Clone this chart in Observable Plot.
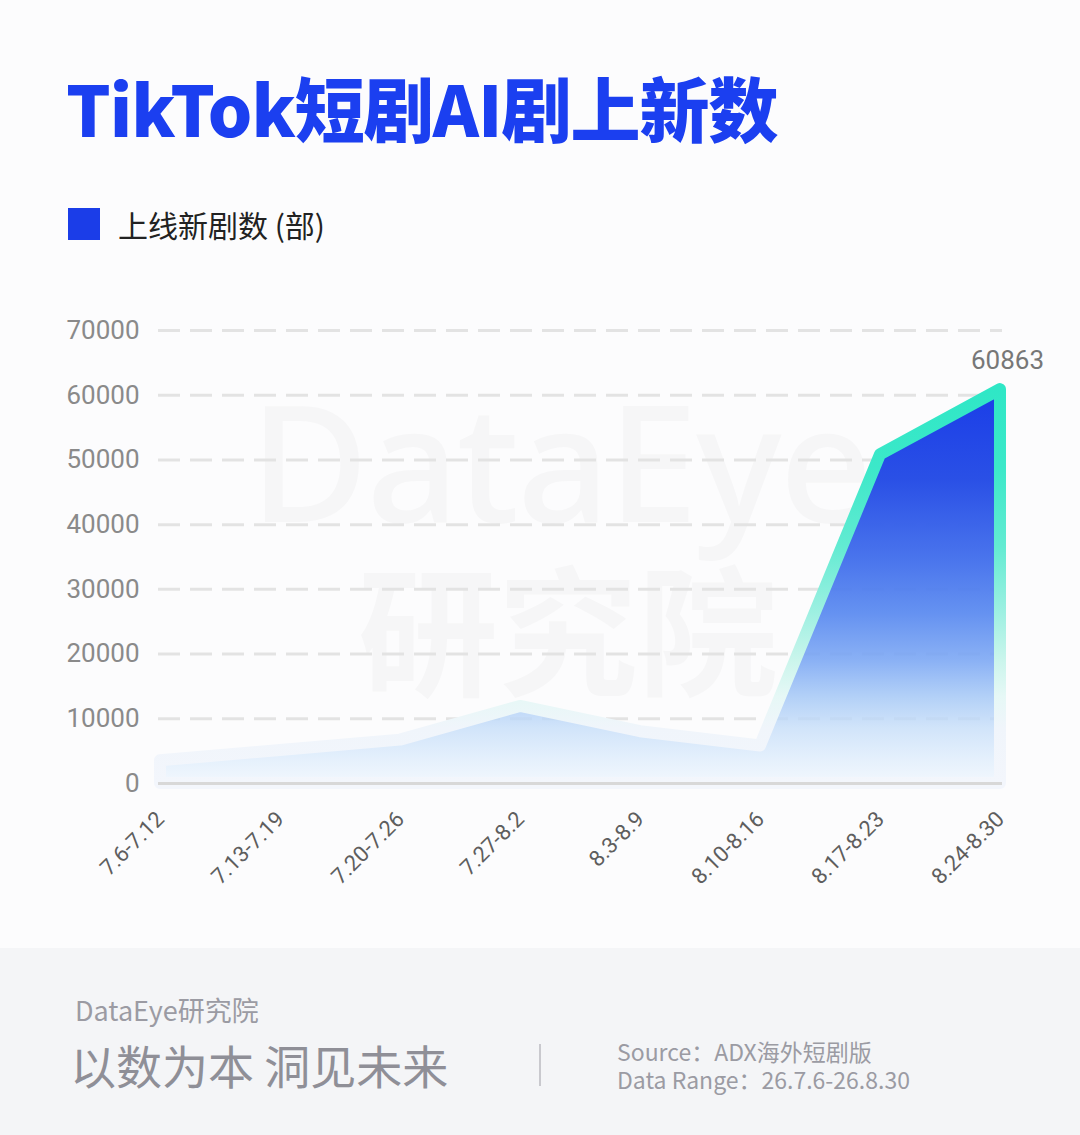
<!DOCTYPE html>
<html>
<head>
<meta charset="utf-8">
<script src="https://cdn.jsdelivr.net/npm/d3@7"></script>
<script src="https://cdn.jsdelivr.net/npm/@observablehq/plot@0.6"></script>
<style>
  html, body { margin: 0; padding: 0; }
  body { width: 1080px; height: 1135px; position: relative; overflow: hidden; background: #fcfcfd; font-family: "Noto Sans CJK SC", "Noto Sans", sans-serif; }
  #title { position: absolute; left: 66px; top: 72px; font-size: 70px; line-height: 1; font-weight: 900; color: #1b3ff0; letter-spacing: -1px; white-space: nowrap; }
  #legend { position: absolute; left: 68px; top: 208px; display: flex; align-items: center; }
  #legend .sw { width: 32px; height: 32px; background: #1b3de8; }
  #legend .lb { margin-left: 18px; font-size: 30px; color: #222; line-height: 32px; }
  .wm { position: absolute; color: #f6f6f7; white-space: nowrap; line-height: 0.8; }
  #wm1 { left: 250px; top: 395px; font-size: 162px; font-family: "Noto Sans", sans-serif; font-weight: 500; letter-spacing: -2px; }
  #wm2 { left: 358px; top: 568px; font-size: 140px; font-weight: 700; }
  #chart { position: absolute; left: 0; top: 290px; }
  #chart svg text { font-family: Roboto, "Liberation Sans", sans-serif; }
  #footer { position: absolute; left: 0; top: 948px; width: 1080px; height: 187px; background: #f4f5f7; }
  #f1 { position: absolute; left: 75px; top: 48px; font-size: 27px; color: #9b9ba3; line-height: 1; }
  #f2 { position: absolute; left: 70px; top: 93px; font-size: 46px; color: #8f8f97; line-height: 1; }
  #sep { position: absolute; left: 539px; top: 96px; width: 2px; height: 42px; background: #c9c9ce; }
  .f3 { position: absolute; left: 617px; font-size: 23px; color: #9b9ba3; line-height: 1; white-space: nowrap; }
  #f3a { top: 92px; }
  #f3b { top: 120px; }
</style>
</head>
<body>
<div class="wm" id="wm1">DataEye</div>
<div class="wm" id="wm2">研究院</div>
<div id="title">TikTok短剧AI剧上新数</div>
<div id="legend"><div class="sw"></div><div class="lb">上线新剧数 (部)</div></div>
<div id="chart"></div>
<div id="footer">
  <div id="f1">DataEye研究院</div>
  <div id="f2">以数为本 洞见未来</div>
  <div id="sep"></div>
  <div class="f3" id="f3a">Source：ADX海外短剧版</div>
  <div class="f3" id="f3b">Data Range：26.7.6-26.8.30</div>
</div>
<script>
const weeks = ["7.6-7.12","7.13-7.19","7.20-7.26","7.27-8.2","8.3-8.9","8.10-8.16","8.17-8.23","8.24-8.30"];
const values = [3500, 5100, 6700, 11900, 8000, 5800, 50800, 60863];
const yTicks = [0, 10000, 20000, 30000, 40000, 50000, 60000, 70000];

const data = weeks.map((w, i) => ({week: w, value: values[i]}));

const defsMark = () => {
  const defs = d3.create("svg:defs");
  const fg = defs.append("linearGradient").attr("id", "areaGrad").attr("x1", 0).attr("y1", 0).attr("x2", 0).attr("y2", 1);
  [[0, "#1a3de8", 1], [0.23, "#2a50e6", 1], [0.43, "#4470ec", 0.97], [0.57, "#5a8af0", 0.93], [0.69, "#7ea9f4", 0.9], [0.78, "#a5c8f6", 0.85], [0.86, "#c6def9", 0.8], [0.95, "#e0eefc", 0.75], [1, "#edf5fe", 0.7]]
    .forEach(([o, c, a]) => fg.append("stop").attr("offset", o).attr("stop-color", c).attr("stop-opacity", a));
  const sg = defs.append("linearGradient").attr("id", "lineGrad").attr("x1", 0).attr("y1", 0).attr("x2", 0).attr("y2", 1);
  [[0, "#2fe7c6"], [0.2, "#3ce8c9"], [0.4, "#63ebd2"], [0.57, "#9ff0e2"], [0.69, "#cbf5ec"], [0.78, "#e6f8f6"], [0.86, "#f0f5fb"], [1, "#f3f6fc"]]
    .forEach(([o, c]) => sg.append("stop").attr("offset", o).attr("stop-color", c));
  return defs.node();
};

const chart = Plot.plot({
  width: 1080,
  height: 658,
  marginLeft: 158,
  marginRight: 78,
  marginTop: 40,
  marginBottom: 165,
  style: { background: "transparent", fontFamily: "Roboto, 'Liberation Sans', sans-serif" },
  x: { type: "point", domain: weeks, padding: 0, label: null },
  y: { domain: [0, 70000], label: null },
  marks: [
    defsMark,
    Plot.gridY(yTicks, { stroke: "#e3e3e3", strokeOpacity: 1, strokeWidth: 3, strokeDasharray: "22,10" }),
    Plot.areaY(data, { x: "week", y: "value", fill: "url(#areaGrad)", stroke: "url(#lineGrad)", strokeWidth: 12, strokeLinejoin: "round" }),
    Plot.ruleY([0], { stroke: "#d8d8d8", strokeWidth: 3 }),
    Plot.axisY(yTicks, { tickSize: 0, tickPadding: 19, fontSize: 26, tickFormat: d => String(d), fill: "#8a8a8a" }),
    Plot.axisX({ tickSize: 0, tickRotate: -45, tickPadding: 32, fontSize: 22, fill: "#5e5e5e" }),
    Plot.text(data.filter((d, i) => i === data.length - 1), { x: "week", y: "value", text: d => String(d.value), dy: -29, dx: 7, fontSize: 26, fill: "#777777" })
  ]
});
document.getElementById("chart").appendChild(chart);
</script>
</body>
</html>
